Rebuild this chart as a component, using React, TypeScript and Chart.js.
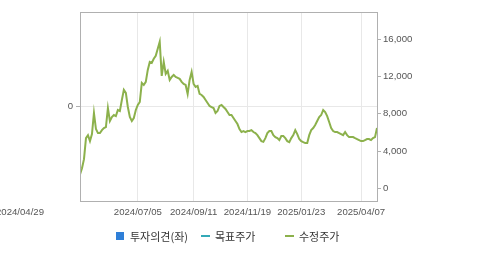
import React, { useEffect, useRef } from 'react';
import { Chart, registerables } from 'chart.js';
Chart.register(...registerables);

// x-axis tick labels (dates) and the point index each one falls on
const xTickLabels = ['2024/04/29', '2024/07/05', '2024/09/11', '2024/11/19', '2025/01/23', '2025/04/07'];
const xTickIndex = [0, 29, 57, 84, 111, 141];

// right-axis ticks (수정주가, KRW)
const rightTicks = [0, 4000, 8000, 12000, 16000];
const rightMin = -1330;
const rightMax = 18900;

// left-axis ticks (투자의견)
const leftTicks = [0];

// 수정주가 series (evenly spaced samples)
const priceValues = [
  1500, 2180, 3150, 5400, 5720, 5080, 5830, 8090, 6370, 5940,
  5940, 6260, 6480, 6580, 8620, 7230, 7660, 7870, 7760, 8410,
  8300, 9480, 10560, 10240, 8730, 7660, 7230, 7550, 8410, 8950,
  9270, 11310, 11090, 11420, 12700, 13560, 13450, 13890, 14210, 14960,
  15710, 12060, 13560, 12280, 12600, 11630, 11950, 12170, 11950, 11850,
  11740, 11420, 11200, 11090, 10130, 11630, 12490, 11200, 10880, 10990,
  10130, 10020, 9810, 9480, 9160, 8840, 8730, 8620, 8090, 8300,
  8840, 8950, 8730, 8520, 8190, 7870, 7870, 7550, 7230, 6910,
  6370, 6050, 6160, 6050, 6160, 6160, 6260, 6050, 5940, 5720,
  5400, 5080, 5000, 5400, 5940, 6160, 6160, 5720, 5510, 5400,
  5190, 5620, 5620, 5400, 5080, 4970, 5400, 5720, 6260, 5830,
  5300, 5080, 4970, 4870, 4870, 5720, 6260, 6480, 6800, 7230,
  7660, 7870, 8410, 8190, 7760, 7120, 6480, 6160, 6050, 6050,
  5940, 5830, 5720, 6050, 5720, 5510, 5510, 5510, 5400, 5300,
  5190, 5080, 5080, 5190, 5300, 5300, 5190, 5400, 5510, 6480,
];

const legendItems = [
  { label: '투자의견(좌)', kind: 'box', color: '#2f7fd8' },
  { label: '목표주가', kind: 'line', color: '#33a9b7' },
  { label: '수정주가', kind: 'line', color: '#8cb14c' },
];

const tickFont = { family: '"Liberation Sans", Arial, sans-serif', size: 9.6 };
const tickColor = '#555555';

export default function App() {
  const canvasRef = useRef<HTMLCanvasElement | null>(null);

  useEffect(() => {
    const canvas = canvasRef.current;
    if (!canvas) return;

    const framePlugin = {
      id: 'frame',
      afterDraw(chart: any) {
        const { ctx, chartArea } = chart;
        ctx.save();
        ctx.strokeStyle = '#b0b0b0';
        ctx.lineWidth = 1;
        ctx.strokeRect(
          Math.round(chartArea.left) + 0.5,
          Math.round(chartArea.top) + 0.5,
          Math.round(chartArea.right - chartArea.left),
          Math.round(chartArea.bottom - chartArea.top)
        );
        // x labels
        const xs = chart.scales.x;
        ctx.fillStyle = tickColor;
        ctx.font = `${tickFont.size}px ${tickFont.family}`;
        ctx.textBaseline = 'middle';
        xTickIndex.forEach((idx, i) => {
          const px = xs.getPixelForValue(idx);
          if (i === 0) {
            ctx.textAlign = 'right';
            ctx.fillText(xTickLabels[i], px - 36, chartArea.bottom + 11);
          } else {
            ctx.textAlign = 'center';
            ctx.fillText(xTickLabels[i], px, chartArea.bottom + 11);
          }
        });
        ctx.restore();
      },
    };

    const chart = new Chart(canvas, {
      type: 'line',
      data: {
        datasets: [
          {
            label: '수정주가',
            data: priceValues.map((v, i) => ({ x: i, y: v })),
            borderColor: '#8cb14c',
            borderWidth: 2,
            pointRadius: 0,
            tension: 0,
            yAxisID: 'yR',
            xAxisID: 'x',
          },
        ],
      },
      options: {
        animation: false,
        responsive: false,
        maintainAspectRatio: false,
        layout: { padding: { top: 12, left: 0, right: 0, bottom: 0 } },
        plugins: { legend: { display: false }, tooltip: { enabled: false } },
        scales: {
          x: {
            type: 'linear',
            position: 'bottom',
            min: 0,
            max: priceValues.length - 1,
            afterBuildTicks: (s: any) => {
              s.ticks = xTickIndex.map((v) => ({ value: v }));
            },
            afterFit: (s: any) => {
              s.height = 54;
            },
            ticks: { display: false },
            grid: { color: '#e8e8e8', drawTicks: false },
            border: { color: '#b0b0b0' },
          },
          yL: {
            type: 'linear',
            position: 'left',
            min: -1,
            max: 1,
            afterBuildTicks: (s: any) => {
              s.ticks = leftTicks.map((v) => ({ value: v }));
            },
            afterFit: (s: any) => {
              s.width = 80;
            },
            ticks: { font: tickFont, color: tickColor, padding: 3 },
            grid: { color: '#e8e8e8', tickLength: 4, tickColor: '#b0b0b0' },
            border: { color: '#b0b0b0' },
          },
          yR: {
            type: 'linear',
            position: 'right',
            min: rightMin,
            max: rightMax,
            afterBuildTicks: (s: any) => {
              s.ticks = rightTicks.map((v) => ({ value: v }));
            },
            afterFit: (s: any) => {
              s.width = 102;
            },
            ticks: {
              font: tickFont,
              color: tickColor,
              padding: 2,
              callback: (v: any) => Number(v).toLocaleString('en-US'),
            },
            grid: { drawOnChartArea: false, tickLength: 4, color: '#b0b0b0' },
            border: { color: '#b0b0b0' },
          },
        },
      },
      plugins: [framePlugin],
    });

    return () => chart.destroy();
  }, []);

  const legendX = [116, 201, 285];

  return (
    <div style={{ position: 'absolute', left: 0, top: 0, width: 479, height: 255, background: '#fff' }}>
      <canvas ref={canvasRef} width={479} height={255} style={{ position: 'absolute', left: 0, top: 0, width: 479, height: 255 }} />
      {legendItems.map((it, i) => (
        <div
          key={it.label}
          style={{
            position: 'absolute',
            left: legendX[i],
            top: 227,
            height: 17,
            display: 'flex',
            alignItems: 'center',
            fontFamily: '"Noto Sans CJK KR", sans-serif',
            fontSize: 11,
            color: '#333',
            whiteSpace: 'nowrap',
          }}
        >
          {it.kind === 'box' ? (
            <span style={{ display: 'inline-block', width: 8, height: 8, background: it.color, marginRight: 6 }} />
          ) : (
            <span style={{ display: 'inline-block', width: 9, height: 2, background: it.color, marginRight: 5 }} />
          )}
          <span>{it.label}</span>
        </div>
      ))}
    </div>
  );
}
